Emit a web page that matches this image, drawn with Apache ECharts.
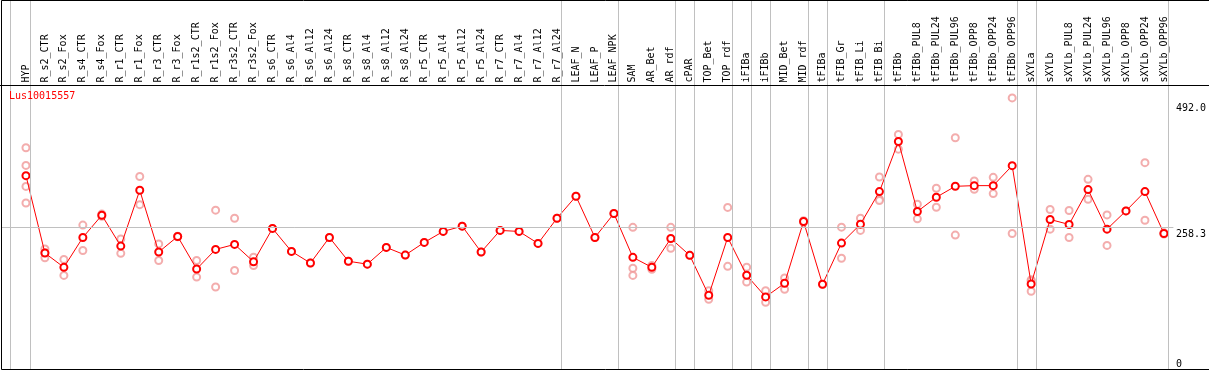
<!DOCTYPE html>
<html>
<head>
<meta charset="utf-8">
<script src="https://cdn.jsdelivr.net/npm/echarts@6/dist/echarts.min.js"></script>
<style>
html,body{margin:0;padding:0;background:#fff;}
#chart{width:1209px;height:370px;}
</style>
</head>
<body>
<div id="chart"></div>
<script>
const seriesName = 'Lus10015557';
const categories = ['HYP','R_s2_CTR','R_s2_Fox','R_s4_CTR','R_s4_Fox','R_r1_CTR','R_r1_Fox','R_r3_CTR','R_r3_Fox',
  'R_r1s2_CTR','R_r1s2_Fox','R_r3s2_CTR','R_r3s2_Fox','R_s6_CTR','R_s6_Al4','R_s6_Al12','R_s6_Al24',
  'R_s8_CTR','R_s8_Al4','R_s8_Al12','R_s8_Al24','R_r5_CTR','R_r5_Al4','R_r5_Al12','R_r5_Al24',
  'R_r7_CTR','R_r7_Al4','R_r7_Al12','R_r7_Al24','LEAF_N','LEAF_P','LEAF_NPK','SAM','AR_Bet','AR_rdf',
  'cPAR','TOP_Bet','TOP_rdf','iFIBa','iFIBb','MID_Bet','MID_rdf','tFIBa','tFIB_Gr','tFIB_Li','tFIB_Bi',
  'tFIBb','tFIBb_PUL8','tFIBb_PUL24','tFIBb_PUL96','tFIBb_OPP8','tFIBb_OPP24','tFIBb_OPP96',
  'sXYLa','sXYLb','sXYLb_PUL8','sXYLb_PUL24','sXYLb_PUL96','sXYLb_OPP8','sXYLb_OPP24','sXYLb_OPP96'];
const means = [351.5,211.5,185.7,239.7,279.9,224.1,325.0,213.3,241.5,182.6,218.1,227.1,195.8,256.0,214.5,193.4,239.7,
  196.7,191.4,221.7,207.8,230.7,250.6,260.1,213.3,252.4,250.6,228.9,274.5,314.2,239.7,283.0,203.7,185.7,237.9,
  207.3,135.2,239.7,171.3,132.2,156.9,268.6,155.1,229.5,263.7,322.6,413.3,286.6,312.4,332.2,333.4,333.4,369.5,
  155.6,272.2,263.2,326.2,254.7,287.7,322.6,246.9];
const replicates = [[402,370,332,302],[219,212,203],[200,171],[262,216],[282,278],[237,211],[350,299],[228,198],[242,241],
  [198,168],[289,150],[274.5,180],[204,189],[256],[214.5],[193.4],[239.7],
  [196.7],[191.4],[221.7],[207.8],[230.7],[250.6],[260.1],[213.3],
  [252.4],[250.6],[228.9],[274.5],[314.2],[239.7],[283.0],[258,184,171],[189,182],[258,220],
  [207.3],[143.5,128],[294,187.5],[186,159],[143.5,122.6],[166.4,146],[270,267],[155.1],[258.3,202],[274.5,252.4],[349,309,306.5],
  [426,399.4],[299.7,273.3],[328.6,294.3],[420,244],[341.7,326.8],[348.4,319],[492.0,246.9],
  [163,161,142.5],[290.2,254.7],[288.4,239.7],[344.8,308.8],[280.5,225.3],[287.7],[374.9,270.9],[248,246]];
const groupStarts = [0,1,29,32,35,36,38,39,40,42,43,46,53,54,61];
const yTickValues = [0, 258.3, 492.0];
const yTickLabels = ['0', '258.3', '492.0'];

const FONT = 'DejaVu Sans Mono';
const repData = [];
replicates.forEach((arr, i) => arr.forEach(v => repData.push([i, v])));
const meanData = means.map((v, i) => [i, v]);
const sepLines = groupStarts.map(s => ({ xAxis: s - (s === 0 ? 0.83 : 0.75) }));

const chart = echarts.init(document.getElementById('chart'));
chart.setOption({
  animation: false,
  backgroundColor: '#fff',
  title: {
    text: seriesName, left: 9, top: 91, padding: 0,
    textStyle: { color: '#ff0000', fontFamily: FONT, fontSize: 10, fontWeight: 'normal' }
  },
  grid: { left: 1, top: 0, right: 33.5, bottom: -1.4, containLabel: false },
  xAxis: {
    type: 'value', min: -25/19, max: 60.5, position: 'top', offset: -85.5,
    axisLine: { show: false }, axisTick: { show: false }, splitLine: { show: false },
    axisLabel: {
      customValues: categories.map((_, i) => i),
      formatter: v => categories[Math.round(v)] || '',
      rotate: 90, margin: 3, color: '#000', fontFamily: FONT, fontSize: 10
    }
  },
  yAxis: {
    type: 'value', min: 0, max: 669.1, position: 'right',
    axisLine: { show: false }, axisTick: { show: false }, splitLine: { show: false },
    axisLabel: {
      customValues: yTickValues, margin: 2.5, color: '#000', fontFamily: FONT, fontSize: 10,
      formatter: v => {
        const k = yTickValues.findIndex(t => Math.abs(t - v) < 1e-6);
        return ['{c|', '{b|', '{a|'][k] + yTickLabels[k] + '}';
      },
      rich: {
        a: { fontFamily: FONT, fontSize: 10, color: '#000', padding: [21, 0, 0, 0] },
        b: { fontFamily: FONT, fontSize: 10, color: '#000', padding: [14, 0, 0, 0] },
        c: { fontFamily: FONT, fontSize: 10, color: '#000', padding: [0, 0, 12, 0] }
      }
    }
  },
  series: [
    {
      type: 'line', data: [], silent: true,
      markLine: {
        silent: true, symbol: 'none', label: { show: false },
        lineStyle: { color: '#c0c0c0', width: 1, type: 'solid' },
        data: sepLines.concat([{ yAxis: 258.3 }])
      },
      z: 1
    },
    {
      type: 'scatter', name: 'rep', data: repData, symbol: 'emptyCircle', symbolSize: 7,
      itemStyle: { color: '#f09898', borderColor: '#f09898', borderWidth: 1.2 },
      z: 2
    },
    {
      type: 'line', name: seriesName, data: meanData, symbol: 'emptyCircle', symbolSize: 7,
      lineStyle: { color: '#ff0000', width: 1 },
      itemStyle: { color: '#ff0000', borderColor: '#ff0000', borderWidth: 1.6 },
      z: 3
    }
  ],
  graphic: [
    { type: 'rect', z: 100, silent: true, shape: { x: 1.5, y: 0.5, width: 1300, height: 369 },
      style: { fill: 'none', stroke: '#000', lineWidth: 1 } },
    { type: 'line', z: 100, silent: true, shape: { x1: 0, y1: 85.5, x2: 1209, y2: 85.5 },
      style: { stroke: '#000', lineWidth: 1 } }
  ]
});
</script>
</body>
</html>
